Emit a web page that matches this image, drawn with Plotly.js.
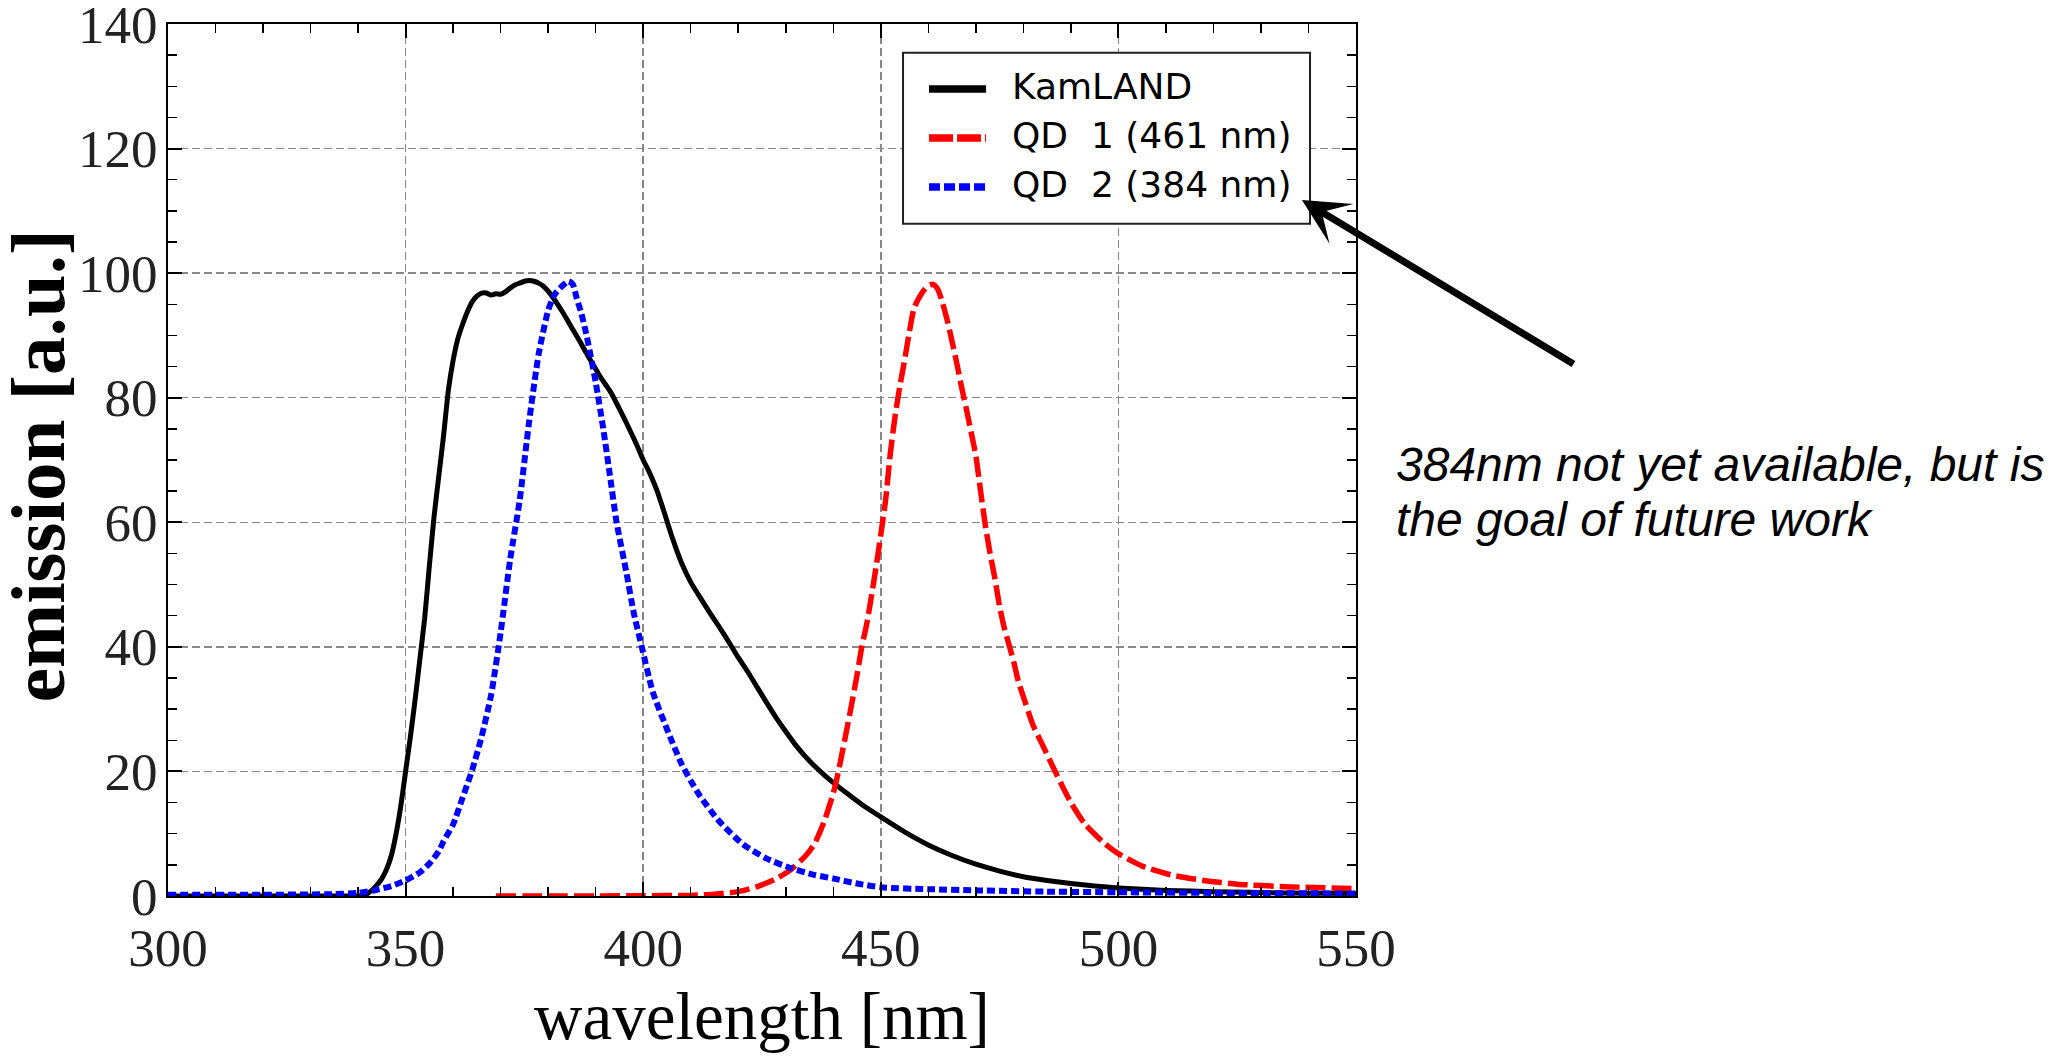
<!DOCTYPE html>
<html>
<head>
<meta charset="utf-8">
<script src="https://cdn.plot.ly/plotly-3.0.1.min.js"></script>
<style>html,body{margin:0;padding:0;background:#fff;}#chart{width:2056px;height:1064px;}</style>
</head>
<body>
<div id="chart"></div>
<script>
// ---- data ----
const seriesNames = ["KamLAND", "QD  1 (461 nm)", "QD  2 (384 nm)"];
const seriesColors = ["#000000", "#ff0000", "#0000ff"];

const kamlandX = [300,320,335,340,341,342,343,344,345,346,347,348,349,350,351,352,353,354,355,356,357,358,359,360,361,362,363,364,365,366,367,368,369,370,371,372,373,374,375,376,377,378,379,380,381,382,383,384,385,386,387,388,389,390,391,392,393,394,395,396,397,398,399,400,401,402,403,404,405,406,407,408,410,412,414,416,418,420,422,424,426,428,430,432,434,436,438,440,443,446,450,455,460,465,470,475,480,485,490,495,500,510,520,535,550];
const kamlandY = [0,0,0,0,0.1,0.4,1.0,1.8,2.8,4.3,6.5,10,14.5,20,25.5,31.5,38,44.5,53,61,67.5,74,81.2,86,89.5,91.8,93.8,95.4,96.3,96.8,96.8,96.5,96.7,96.6,97.0,97.6,98.1,98.4,98.7,98.8,98.7,98.4,97.9,97.1,96.1,95.0,93.8,92.5,91.2,89.9,88.6,87.2,85.9,84.6,83.3,82.2,81.1,79.7,78.2,76.7,75.1,73.5,71.8,70.0,68.5,66.8,64.9,62.6,60.2,57.8,55.6,53.6,50.4,47.9,45.5,43.2,40.8,38.3,36,33.5,31,28.6,26.4,24.3,22.5,20.9,19.5,18.2,16.4,14.7,12.7,10.3,8.2,6.5,5.1,4.0,3.1,2.5,2.0,1.6,1.3,0.9,0.7,0.5,0.4];

const qd1X = [369,380,390,400,410,415,420,424,428,431,434,436,438,440,441,442,443.5,445,446,447,448,449,450,451,452,453,454,455,456,457,458,459,460,461,462,463,464,465,466,467,468,469,470,471,472,473,474,475,476,477,478,479,480,482,484,487,490,493,497,500,505,511,518,525,535,550];
const qd1Y = [0,0,0,0.05,0.1,0.3,0.7,1.5,2.8,4.2,6.3,8.3,11.8,16.5,19.7,23.5,29.3,35.5,40,43.5,48,52.8,58,63.5,71,77,81.8,86,90.5,94.4,96,97.2,98,98.2,97.4,95.2,92.4,89,85.5,81.7,78.2,74.5,70.7,65,59.5,55,51,46.5,43,40.3,37.5,34.3,32,27.5,24.3,19.5,15,11.5,8.5,6.8,4.8,3.4,2.5,1.9,1.5,1.2];

const qd2X = [300,320,335,340,344,347,350,353,355,357,358,360,362,364,366,368,370,372,374,376,378,380,381.3,382.5,384.3,385.2,386,387,388,389,390,391.6,393,394.4,396.5,398,399.7,402,405,408,410,412,416,421,426,431,436,440,445,450,460,470,485,500,520,550];
const qd2Y = [0.2,0.2,0.3,0.5,1.0,1.6,2.5,3.8,5.2,7.2,8.8,11.5,15.8,20.2,25.6,32.3,42.3,54,63.5,76.2,87,94,96.5,97.6,98.7,98.2,96,93.5,90.3,86.5,82.5,75,67.5,60,51.8,45.5,40,32.8,26.8,21.3,18.5,16,12,8.3,6,4.5,3.4,2.8,2.0,1.4,1.1,0.9,0.7,0.6,0.5,0.4];

const xTicks = [300,350,400,450,500,550];
const yTicks = [0,20,40,60,80,100,120,140];
const xTitle = "wavelength [nm]";
const yTitle = "emission [a.u.]";
const noteLines = ["384nm not yet available, but is", "the goal of future work"];

// ---- chart ----
const lineStyles = [
  {color: seriesColors[0], width: 5},
  {color: seriesColors[1], width: 5.5, dash: "20px,6px"},
  {color: seriesColors[2], width: 6, dash: "8px,4px"}
];
const xs = [kamlandX, qd1X, qd2X];
const ys = [kamlandY, qd1Y, qd2Y];
const traces = xs.map((x, i) => ({
  x: x, y: ys[i], name: seriesNames[i], type: "scatter", mode: "lines",
  line: Object.assign({shape: "spline", smoothing: 0.6}, lineStyles[i])
}));

const axisCommon = {
  showline: true, linecolor: "#000", linewidth: 2, mirror: "allticks",
  ticks: "inside", ticklen: 14, tickwidth: 2, tickcolor: "#000",
  showgrid: true, gridcolor: "#888888", gridwidth: 1.5, griddash: "8px,4px",
  zeroline: false, automargin: false, ticklabeloverflow: "allow",
  tickfont: {family: "Liberation Serif", size: 53, color: "#222"}
};

// legend drawn as a boxed key (paper coordinates)
const legendBox = {x0: 0.6187, x1: 0.9613, y0: 0.771, y1: 0.967};
const legendRowsY = [0.9255, 0.8693, 0.8131];
const legendLineX = [0.6406, 0.6886];
const legendTextX = 0.7088;
const legendDashes = ["solid", "24px,4px", "11px,4px"];

const shapes = [
  {type: "rect", xref: "paper", yref: "paper", x0: legendBox.x0, x1: legendBox.x1, y0: legendBox.y0, y1: legendBox.y1,
   fillcolor: "#ffffff", line: {color: "#222", width: 2}, layer: "above"}
].concat(legendRowsY.map((yy, i) => ({
  type: "line", xref: "paper", yref: "paper", x0: legendLineX[0], x1: legendLineX[1], y0: yy, y1: yy,
  line: {color: seriesColors[i], width: 7.5, dash: legendDashes[i]}, layer: "above"
})));

const annotations = [
  {xref: "paper", yref: "paper", x: -0.1095, y: 0.494, xanchor: "center", yanchor: "middle",
   text: "<b>" + yTitle + "</b>", textangle: -90, showarrow: false,
   font: {family: "Liberation Serif", size: 77, color: "#000"}},
  {xref: "paper", yref: "paper", x: 0.9545, y: 0.7982, text: "", showarrow: true,
   axref: "pixel", ayref: "pixel", ax: 273, ay: 165,
   arrowhead: 3, arrowsize: 1.1, arrowwidth: 7, arrowcolor: "#000"},
  {xref: "paper", yref: "paper", x: 1.032, y: 0.4954, xanchor: "left", yanchor: "middle",
   text: "<i>" + noteLines[0] + "</i>", showarrow: false,
   font: {family: "Liberation Sans", size: 48, color: "#000"}},
  {xref: "paper", yref: "paper", x: 1.032, y: 0.4323, xanchor: "left", yanchor: "middle",
   text: "<i>" + noteLines[1] + "</i>", showarrow: false,
   font: {family: "Liberation Sans", size: 48, color: "#000"}}
].concat(legendRowsY.map((yy, i) => ({
  xref: "paper", yref: "paper", x: legendTextX, y: yy + 0.003, xanchor: "left", yanchor: "middle",
  text: seriesNames[i].replace(/  /g, "&nbsp; "), showarrow: false,
  font: {family: "DejaVu Sans", size: 36, color: "#000"}
})));

const layout = {
  width: 2056, height: 1064,
  margin: {l: 168, r: 700, t: 24, b: 168, pad: 0},
  paper_bgcolor: "#fff", plot_bgcolor: "#fff",
  showlegend: false,
  xaxis: Object.assign({}, axisCommon, {
    range: [300, 550], tickvals: xTicks, ticktext: xTicks.map(String),
    minor: {dtick: 10, tick0: 300, ticks: "inside", ticklen: 9, tickwidth: 1.5, tickcolor: "#000", showgrid: false},
    ticklabelstandoff: 4,
    title: {text: xTitle, font: {family: "Liberation Serif", size: 67, color: "#000"}, standoff: 17}
  }),
  yaxis: Object.assign({}, axisCommon, {
    range: [0, 140], tickvals: yTicks, ticktext: yTicks.map(String),
    minor: {dtick: 5, tick0: 0, ticks: "inside", ticklen: 9, tickwidth: 1.5, tickcolor: "#000", showgrid: false},
    ticklabelstandoff: -2
  }),
  shapes: shapes,
  annotations: annotations
};

Plotly.newPlot("chart", traces, layout, {staticPlot: true, displayModeBar: false});
</script>
</body>
</html>
